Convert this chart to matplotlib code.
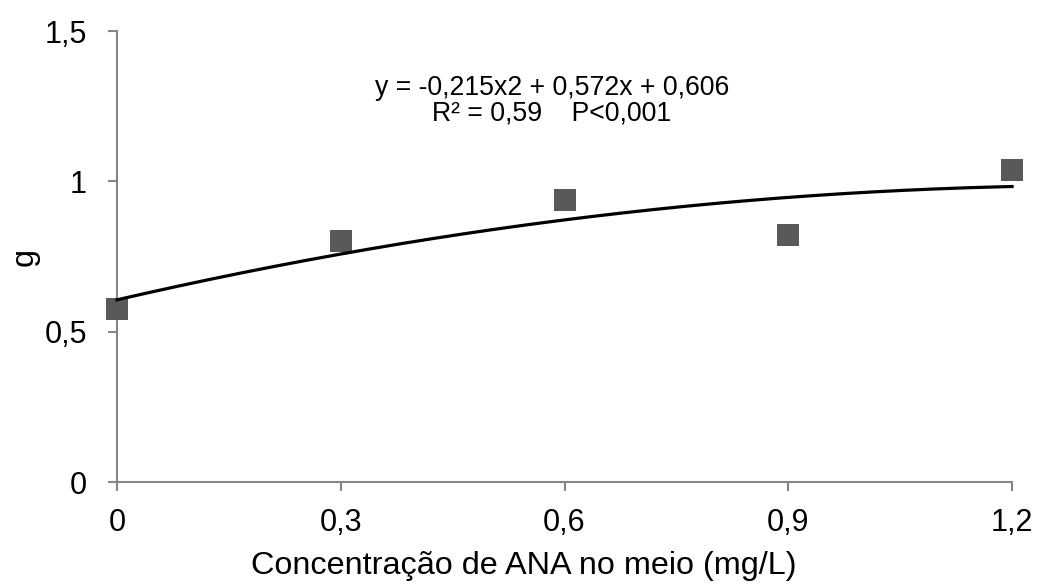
import numpy as np
import matplotlib.pyplot as plt

plt.rcParams['font.family'] = ['Liberation Sans', 'DejaVu Sans']

# ANA concentration in the medium and measured mass (g)
conc = [0, 0.3, 0.6, 0.9, 1.2]
mass = [0.577, 0.801, 0.938, 0.821, 1.038]

# quadratic fit coefficients
a, b, c = -0.215, 0.572, 0.606

x_ticks = [0, 0.3, 0.6, 0.9, 1.2]
x_labels = ['0', '0,3', '0,6', '0,9', '1,2']
y_ticks = [0, 0.5, 1, 1.5]
y_labels = ['0', '0,5', '1', '1,5']

fig = plt.figure(figsize=(10.38, 5.85), dpi=100)
ax = fig.add_axes([0.1127, 0.176, 0.8623, 0.771])

ax.plot(conc, mass, linestyle='none', marker='s', markersize=16.5,
        color='#595959', markeredgewidth=0, zorder=3, clip_on=False)

xs = np.linspace(0, 1.2, 200)
ax.plot(xs, a * xs ** 2 + b * xs + c, color='black', linewidth=2.3,
        zorder=4, clip_on=False)

ax.set_xlim(0, 1.2)
ax.set_ylim(0, 1.5)
ax.set_xticks(x_ticks)
ax.set_xticklabels(x_labels)
ax.set_yticks(y_ticks)
ax.set_yticklabels(y_labels)

for side in ['top', 'right']:
    ax.spines[side].set_visible(False)
for side in ['left', 'bottom']:
    ax.spines[side].set_color('#868686')
    ax.spines[side].set_linewidth(1.5)

ax.tick_params(axis='both', direction='out', length=6.5, width=1.5,
               color='#868686', labelsize=22)
ax.tick_params(axis='y', pad=15)
ax.tick_params(axis='x', pad=12)

ax.set_xlabel('Concentração de ANA no meio (mg/L)', fontsize=23.3, va='center')
ax.xaxis.set_label_coords(0.455, -0.186)
ax.set_ylabel('g', fontsize=23.3, va='center')
ax.yaxis.set_label_coords(-0.103, 0.5)

# fitted equation and statistics
ax.text(0.583, 1.31, 'y = -0,215x2 + 0,572x + 0,606', fontsize=19.2,
        ha='center', va='center')
ax.text(0.583, 1.224, 'R² = 0,59    P<0,001', fontsize=19.2,
        ha='center', va='center')

fig.savefig('out.png', dpi=100)
